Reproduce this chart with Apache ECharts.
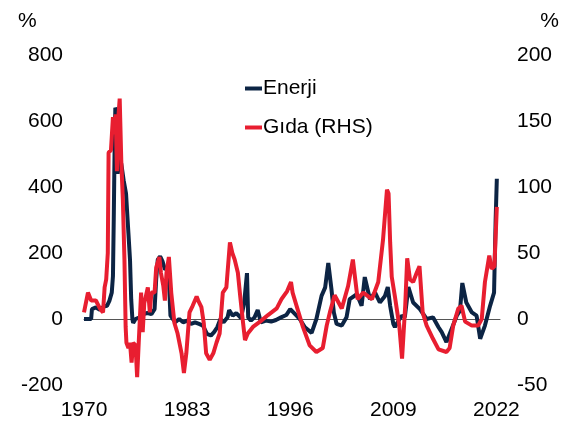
<!DOCTYPE html>
<html>
<head>
<meta charset="utf-8">
<script src="https://cdn.jsdelivr.net/npm/echarts@6/dist/echarts.min.js"></script>
<style>
  html, body { margin: 0; padding: 0; background: #fff; }
  #chart { width: 573px; height: 429px; }
</style>
</head>
<body>
<div id="chart"></div>
<script>
// x ekseni etiketleri (13 yilda bir)
var xTickLabels = ['1970', '1983', '1996', '2009', '2022'];
var startYear = 1970;

// Enerji (sol eksen, %)
var enerjiYears = [1970.0, 1970.9, 1971.0, 1971.5, 1972.0, 1972.5, 1972.9, 1973.2, 1973.5, 1973.65, 1973.75, 1973.85, 1973.95, 1974.15, 1974.25, 1974.45, 1974.7, 1975.0, 1975.3, 1975.5, 1975.6, 1975.8, 1975.95, 1976.1, 1976.2, 1976.5, 1977.0, 1977.5, 1978.0, 1978.5, 1978.9, 1979.1, 1979.3, 1979.6, 1979.9, 1980.2, 1980.5, 1980.7, 1980.9, 1981.5, 1982.0, 1982.5, 1983.0, 1983.5, 1984.0, 1984.5, 1985.0, 1985.5, 1986.0, 1986.4, 1986.8, 1987.2, 1987.6, 1988.1, 1988.3, 1988.75, 1989.2, 1989.8, 1990.2, 1990.55, 1990.7, 1991.05, 1991.5, 1991.9, 1992.3, 1992.95, 1993.6, 1994.2, 1994.85, 1995.5, 1996.0, 1996.8, 1997.2, 1997.85, 1998.7, 1999.3, 1999.95, 2000.4, 2000.8, 2001.2, 2001.5, 2001.85, 2002.5, 2003.1, 2003.5, 2004.4, 2005.0, 2005.4, 2006.05, 2006.7, 2007.3, 2007.95, 2008.3, 2008.6, 2009.0, 2009.2, 2009.4, 2010.05, 2010.45, 2010.9, 2011.5, 2012.35, 2013.2, 2014.0, 2014.7, 2015.1, 2015.7, 2016.35, 2017.0, 2017.4, 2017.7, 2018.2, 2018.9, 2019.5, 2019.95, 2020.55, 2021.2, 2021.7, 2021.9, 2022.05];
var enerjiValues = [0, 0, 30, 35, 28, 38, 40, 55, 80, 130, 300, 500, 640, 630, 440, 480, 470, 420, 380, 300, 260, 180, 60, 0, -12, 0, 5, 15, 18, 15, 30, 120, 180, 190, 175, 150, 155, 120, 10, -10, 0, -10, -5, -15, -10, -15, -20, -45, -50, -40, -25, 0, -10, 5, 27, 10, 18, 3, 50, 139, 5, -5, 5, 27, -10, -5, -8, -3, 5, 12, 30, 10, 0, -25, -42, 0, 70, 95, 170, 90, 20, -15, -20, 5, 60, 75, 40, 127, 60, 80, 50, 70, 97, 40, -15, -25, -15, 10, 5, 97, 50, 30, 0, 5, -25, -40, -70, -30, 10, 25, 109, 50, 20, 10, -60, -20, 40, 80, 300, 425];

// Gida (sag eksen, %)
var gidaYears = [1970.0, 1970.5, 1970.9, 1971.5, 1972.0, 1972.4, 1972.6, 1972.8, 1973.0, 1973.1, 1973.4, 1973.6, 1973.65, 1973.85, 1974.0, 1974.15, 1974.3, 1974.5, 1974.7, 1974.9, 1975.1, 1975.25, 1975.35, 1975.6, 1975.8, 1976.0, 1976.2, 1976.5, 1976.7, 1976.9, 1977.2, 1977.4, 1977.6, 1978.05, 1978.3, 1978.5, 1978.9, 1979.1, 1979.5, 1979.7, 1980.0, 1980.2, 1980.4, 1980.7, 1981.0, 1981.4, 1981.8, 1982.3, 1982.6, 1982.9, 1983.3, 1983.7, 1984.2, 1984.4, 1984.8, 1985.1, 1985.4, 1985.85, 1986.3, 1986.7, 1987.1, 1987.5, 1987.95, 1988.4, 1988.7, 1989.0, 1989.4, 1989.7, 1990.0, 1990.3, 1990.65, 1991.3, 1992.2, 1993.2, 1994.3, 1994.9, 1995.6, 1996.1, 1996.3, 1996.8, 1997.6, 1998.45, 1999.3, 2000.1, 2000.6, 2001.0, 2001.6, 2002.5, 2003.3, 2003.9, 2004.5, 2005.2, 2006.3, 2007.1, 2007.7, 2008.2, 2008.4, 2008.6, 2008.8, 2009.2, 2009.75, 2010.1, 2010.5, 2010.75, 2011.1, 2011.5, 2011.95, 2012.3, 2012.7, 2013.2, 2014.0, 2014.7, 2015.7, 2016.1, 2016.55, 2017.2, 2017.6, 2018.05, 2018.9, 2019.7, 2020.15, 2020.55, 2021.1, 2021.4, 2021.75, 2022.05];
var gidaValues = [5, 20, 14, 14, 8, 5, 24, 30, 50, 126, 128, 128, 153, 140, 155, 112, 150, 167, 120, 90, 45, -6, -18, -22, -18, -33, -18, -20, -44, -18, 20, -10, 12, 24, 5, 20, 20, 39, 47, 35, 25, 14, 35, 47, 20, -3, -11, -26, -41, -26, 5, 10, 17, 14, 9, -3, -26, -31, -26, -18, -11, 20, 24, 58, 50, 45, 35, 17, 0, -16, -11, -6, -2, 3, 8, 15, 21, 28, 20, 10, -6, -20, -25, -22, -5, 5, 18, 8, 25, 45, 15, 20, 15, 28, 60, 98, 95, 58, 32, 17, -5, -30, 10, 46, 30, 28, 35, 40, 5, -5, -15, -23, -25, -22, -5, 8, 10, -2, -5, -5, 0, 28, 48, 38, 40, 85];

function toPairs(years, values) {
  return years.map(function (y, i) { return [y - startYear, values[i]]; });
}

var chart = echarts.init(document.getElementById('chart'));
var font = 'Liberation Sans, Arial, sans-serif';

var option = {
  animation: false,
  textStyle: { fontFamily: font },
  title: [
    { text: '%', left: 13, top: 6, textStyle: { fontSize: 21, fontWeight: 'normal', color: '#000', fontFamily: font } },
    { text: '%', right: 9, top: 6, textStyle: { fontSize: 21, fontWeight: 'normal', color: '#000', fontFamily: font } }
  ],
  legend: {
    orient: 'vertical',
    left: 240,
    top: 73,
    itemGap: 18,
    itemWidth: 17,
    itemHeight: 4,
    icon: 'rect',
    textStyle: { fontSize: 21, color: '#000', fontFamily: font, padding: [0, 0, 0, -4] },
    data: ['Enerji', 'Gıda (RHS)']
  },
  grid: { left: 84, right: 73, top: 55, bottom: 44 },
  xAxis: [
    {
      type: 'value',
      min: 0,
      max: 52.45,
      interval: 13,
      axisLine: { show: false, onZero: false },
      axisTick: { show: false },
      splitLine: { show: false },
      axisLabel: {
        margin: 15,
        fontSize: 21,
        color: '#000',
        fontFamily: font,
        formatter: function (v) {
          var k = Math.round(v / 13);
          return Math.abs(v - k * 13) < 1e-6 ? xTickLabels[k] : '';
        }
      }
    },
    {
      type: 'value',
      min: 0,
      max: 52.45,
      position: 'bottom',
      axisLine: { show: true, onZero: true, lineStyle: { color: '#555', width: 1 } },
      axisTick: { show: false },
      axisLabel: { show: false },
      splitLine: { show: false }
    }
  ],
  yAxis: [
    {
      type: 'value',
      min: -200,
      max: 800,
      interval: 200,
      axisLine: { show: false },
      axisTick: { show: false },
      splitLine: { show: false },
      axisLabel: { margin: 21, fontSize: 21, color: '#000', fontFamily: font }
    },
    {
      type: 'value',
      min: -50,
      max: 200,
      interval: 50,
      axisLine: { show: false },
      axisTick: { show: false },
      splitLine: { show: false },
      axisLabel: { margin: 17, fontSize: 21, color: '#000', fontFamily: font }
    }
  ],
  series: [
    {
      name: 'Enerji',
      type: 'line',
      xAxisIndex: 0,
      yAxisIndex: 0,
      showSymbol: false,
      color: '#0c2444',
      lineStyle: { width: 4, color: '#0c2444' },
      data: toPairs(enerjiYears, enerjiValues)
    },
    {
      name: 'Gıda (RHS)',
      type: 'line',
      xAxisIndex: 0,
      yAxisIndex: 1,
      showSymbol: false,
      color: '#e81e30',
      lineStyle: { width: 4, color: '#e81e30' },
      data: toPairs(gidaYears, gidaValues)
    }
  ]
};

chart.setOption(option);
window.addEventListener('resize', function () { chart.resize(); });
</script>
</body>
</html>
